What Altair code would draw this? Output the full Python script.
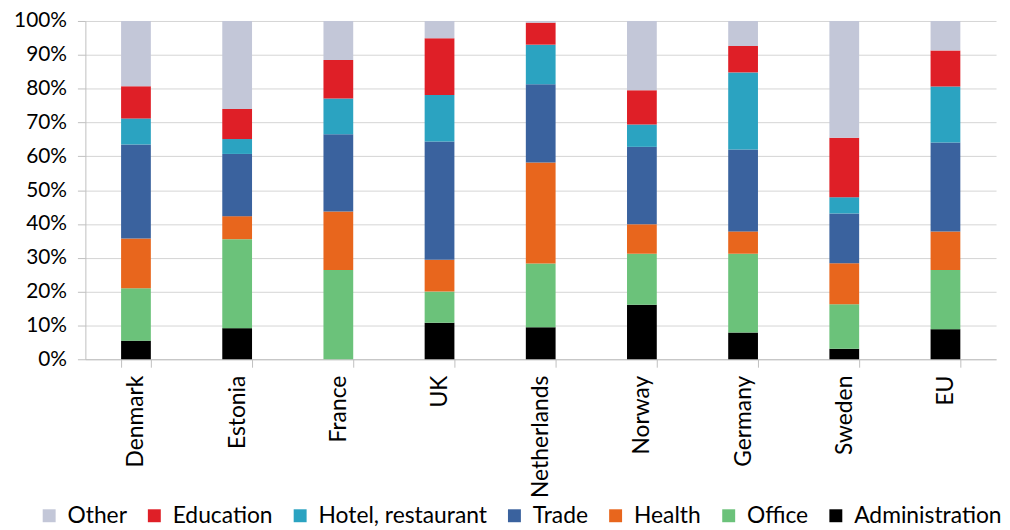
import altair as alt
import pandas as pd

countries = ["Denmark", "Estonia", "France", "UK", "Netherlands", "Norway", "Germany", "Sweden", "EU"]
sectors = ["Other", "Education", "Hotel, restaurant", "Trade", "Health", "Office", "Administration"]
colors = ["#c3c7d8", "#df1f27", "#2ba3c1", "#3a629e", "#e8661d", "#6bc27a", "#000000"]

administration = [5.5, 9.2, 0.0, 10.8, 9.5, 16.1, 7.9, 3.1, 8.9]
office = [15.5, 26.3, 26.4, 9.2, 18.8, 15.1, 23.3, 13.2, 17.5]
health = [14.7, 6.8, 17.3, 9.4, 29.9, 8.7, 6.6, 12.1, 11.4]
trade = [27.8, 18.4, 22.8, 35.0, 23.1, 22.9, 24.2, 14.7, 26.3]
hotel = [7.7, 4.4, 10.6, 13.7, 11.7, 6.6, 22.8, 4.8, 16.5]
education = [9.5, 8.9, 11.4, 16.8, 6.5, 10.1, 7.8, 17.6, 10.7]
other = [19.3, 26.0, 11.5, 5.1, 0.5, 20.5, 7.4, 34.5, 8.7]

series = {
    "Administration": administration,
    "Office": office,
    "Health": health,
    "Trade": trade,
    "Hotel, restaurant": hotel,
    "Education": education,
    "Other": other,
}
stack_order = ["Administration", "Office", "Health", "Trade", "Hotel, restaurant", "Education", "Other"]

rows = []
for s in stack_order:
    for c, v in zip(countries, series[s]):
        rows.append({"country": c, "sector": s, "value": v / 100.0, "ord": stack_order.index(s)})
df = pd.DataFrame(rows)

FONT = "Lato"

chart = alt.Chart(df).mark_bar(size=30).encode(
    x=alt.X("country:N", sort=countries, title=None,
            scale=alt.Scale(paddingInner=0.706, paddingOuter=0.353),
            axis=alt.Axis(labelAngle=-90, labelFontSize=23, labelColor="#000000",
                          labelPadding=8, tickBand="extent", tickSize=8,
                          tickColor="#bfbfbf", domainColor="#bfbfbf", grid=False,
                          labelFont=FONT)),
    y=alt.Y("value:Q", stack="zero", title=None,
            scale=alt.Scale(domain=[0, 1], nice=False),
            axis=alt.Axis(format="%", values=[i / 10 for i in range(11)],
                          labelFontSize=21, labelColor="#000000", labelFont=FONT,
                          tickSize=8, tickColor="#bfbfbf", domainColor="#bfbfbf",
                          gridColor="#d4d4d4", labelPadding=11)),
    color=alt.Color("sector:N", title=None,
                    scale=alt.Scale(domain=sectors, range=colors),
                    legend=alt.Legend(orient="none", legendX=-48, legendY=487,
                                      direction="horizontal", columns=7,
                                      symbolType="square", symbolSize=170,
                                      symbolStrokeWidth=0, labelFontSize=23,
                                      labelFont=FONT, labelColor="#000000",
                                      labelOffset=7, columnPadding=16,
                                      labelLimit=400)),
    order=alt.Order("ord:Q", sort="ascending"),
).properties(
    width=918, height=341,
    autosize=alt.AutoSizeParams(type="none"),
    padding={"left": 78, "top": 11, "right": 6, "bottom": 168},
).configure_view(stroke=None).configure_axis(labelFont=FONT)

chart.save("out.html", embed_options={"renderer": "svg", "actions": False})
